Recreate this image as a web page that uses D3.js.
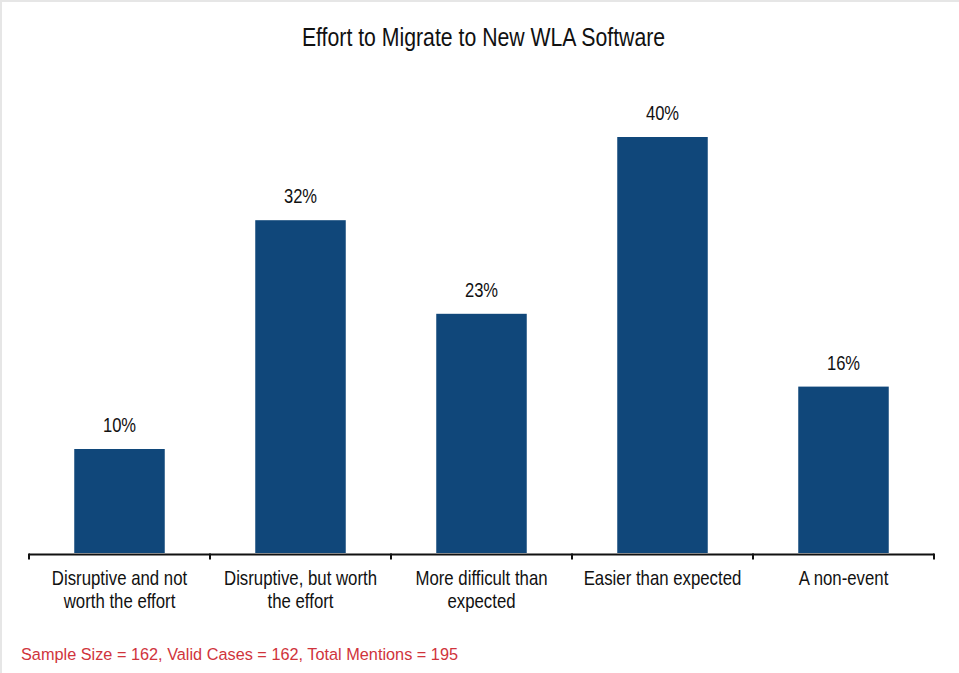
<!DOCTYPE html>
<html>
<head>
<meta charset="utf-8">
<script src="https://cdn.jsdelivr.net/npm/d3@7"></script>
<style>
  html, body { margin: 0; padding: 0; background: #fff; }
  svg { display: block; }
</style>
</head>
<body>
<svg id="chart" width="959" height="673"></svg>
<script>
const title = "Effort to Migrate to New WLA Software";
const categories = [
  ["Disruptive and not", "worth the effort"],
  ["Disruptive, but worth", "the effort"],
  ["More difficult than", "expected"],
  ["Easier than expected"],
  ["A non-event"]
];
const values = [10, 32, 23, 40, 16];
const footnote = "Sample Size = 162, Valid Cases = 162, Total Mentions = 195";

const font = "'Liberation Sans', Arial, Helvetica, sans-serif";
const svg = d3.select("#chart");

// light frame on left/top
svg.append("rect").attr("x", 0).attr("y", 0).attr("width", 959).attr("height", 673).attr("fill", "#fff");
svg.append("rect").attr("x", 0).attr("y", 0).attr("width", 2).attr("height", 673).attr("fill", "#e6e6e6");
svg.append("rect").attr("x", 0).attr("y", 0).attr("width", 959).attr("height", 2).attr("fill", "#e6e6e6");

const ids = categories.map((c, i) => i);
const x = d3.scaleBand().domain(ids).range([29, 934]).paddingInner(0.5).paddingOuter(0.25);
const y = d3.scaleLinear().domain([0, 40]).range([553, 137]);

// condensed text helper: horizontally squeezed, centred at (cx, by)
function narrowText(parent, cx, by, size, k, str) {
  return parent.append("text")
    .attr("transform", `translate(${cx},${by}) scale(${k},1)`)
    .attr("text-anchor", "middle")
    .attr("font-family", font)
    .attr("font-size", size)
    .attr("fill", "#111")
    .text(str);
}

narrowText(svg, 483.5, 46, 25, 0.85, title);

svg.selectAll("rect.bar").data(values).enter().append("rect")
  .attr("class", "bar")
  .attr("x", (d, i) => x(i))
  .attr("y", d => y(d))
  .attr("width", x.bandwidth())
  .attr("height", d => y(0) - y(d))
  .attr("fill", "#10477a");

values.forEach((d, i) => {
  narrowText(svg, x(i) + x.bandwidth() / 2, y(d) - 17, 19.5, 0.85, d + "%");
});

// axis line and boundary ticks
const step = x.step();
const half = step * x.paddingInner() / 2;
const bounds = ids.map(i => x(i) - half).concat([x(ids[ids.length - 1]) + x.bandwidth() + half]);
const axisY = 554.5;
svg.append("line")
  .attr("x1", bounds[0]).attr("x2", bounds[bounds.length - 1])
  .attr("y1", axisY).attr("y2", axisY)
  .attr("stroke", "#111").attr("stroke-width", 2);
svg.selectAll("line.tick").data(bounds).enter().append("line")
  .attr("class", "tick")
  .attr("x1", d => d).attr("x2", d => d)
  .attr("y1", axisY - 1).attr("y2", axisY + 5)
  .attr("stroke", "#111").attr("stroke-width", 2);

categories.forEach((lines, i) => {
  lines.forEach((ln, j) => {
    narrowText(svg, x(i) + x.bandwidth() / 2, 585 + j * 23, 20, 0.84, ln);
  });
});

svg.append("text")
  .attr("x", 21).attr("y", 660)
  .attr("font-family", font)
  .attr("font-size", 16.3)
  .attr("fill", "#d0343c")
  .text(footnote);
</script>
</body>
</html>
